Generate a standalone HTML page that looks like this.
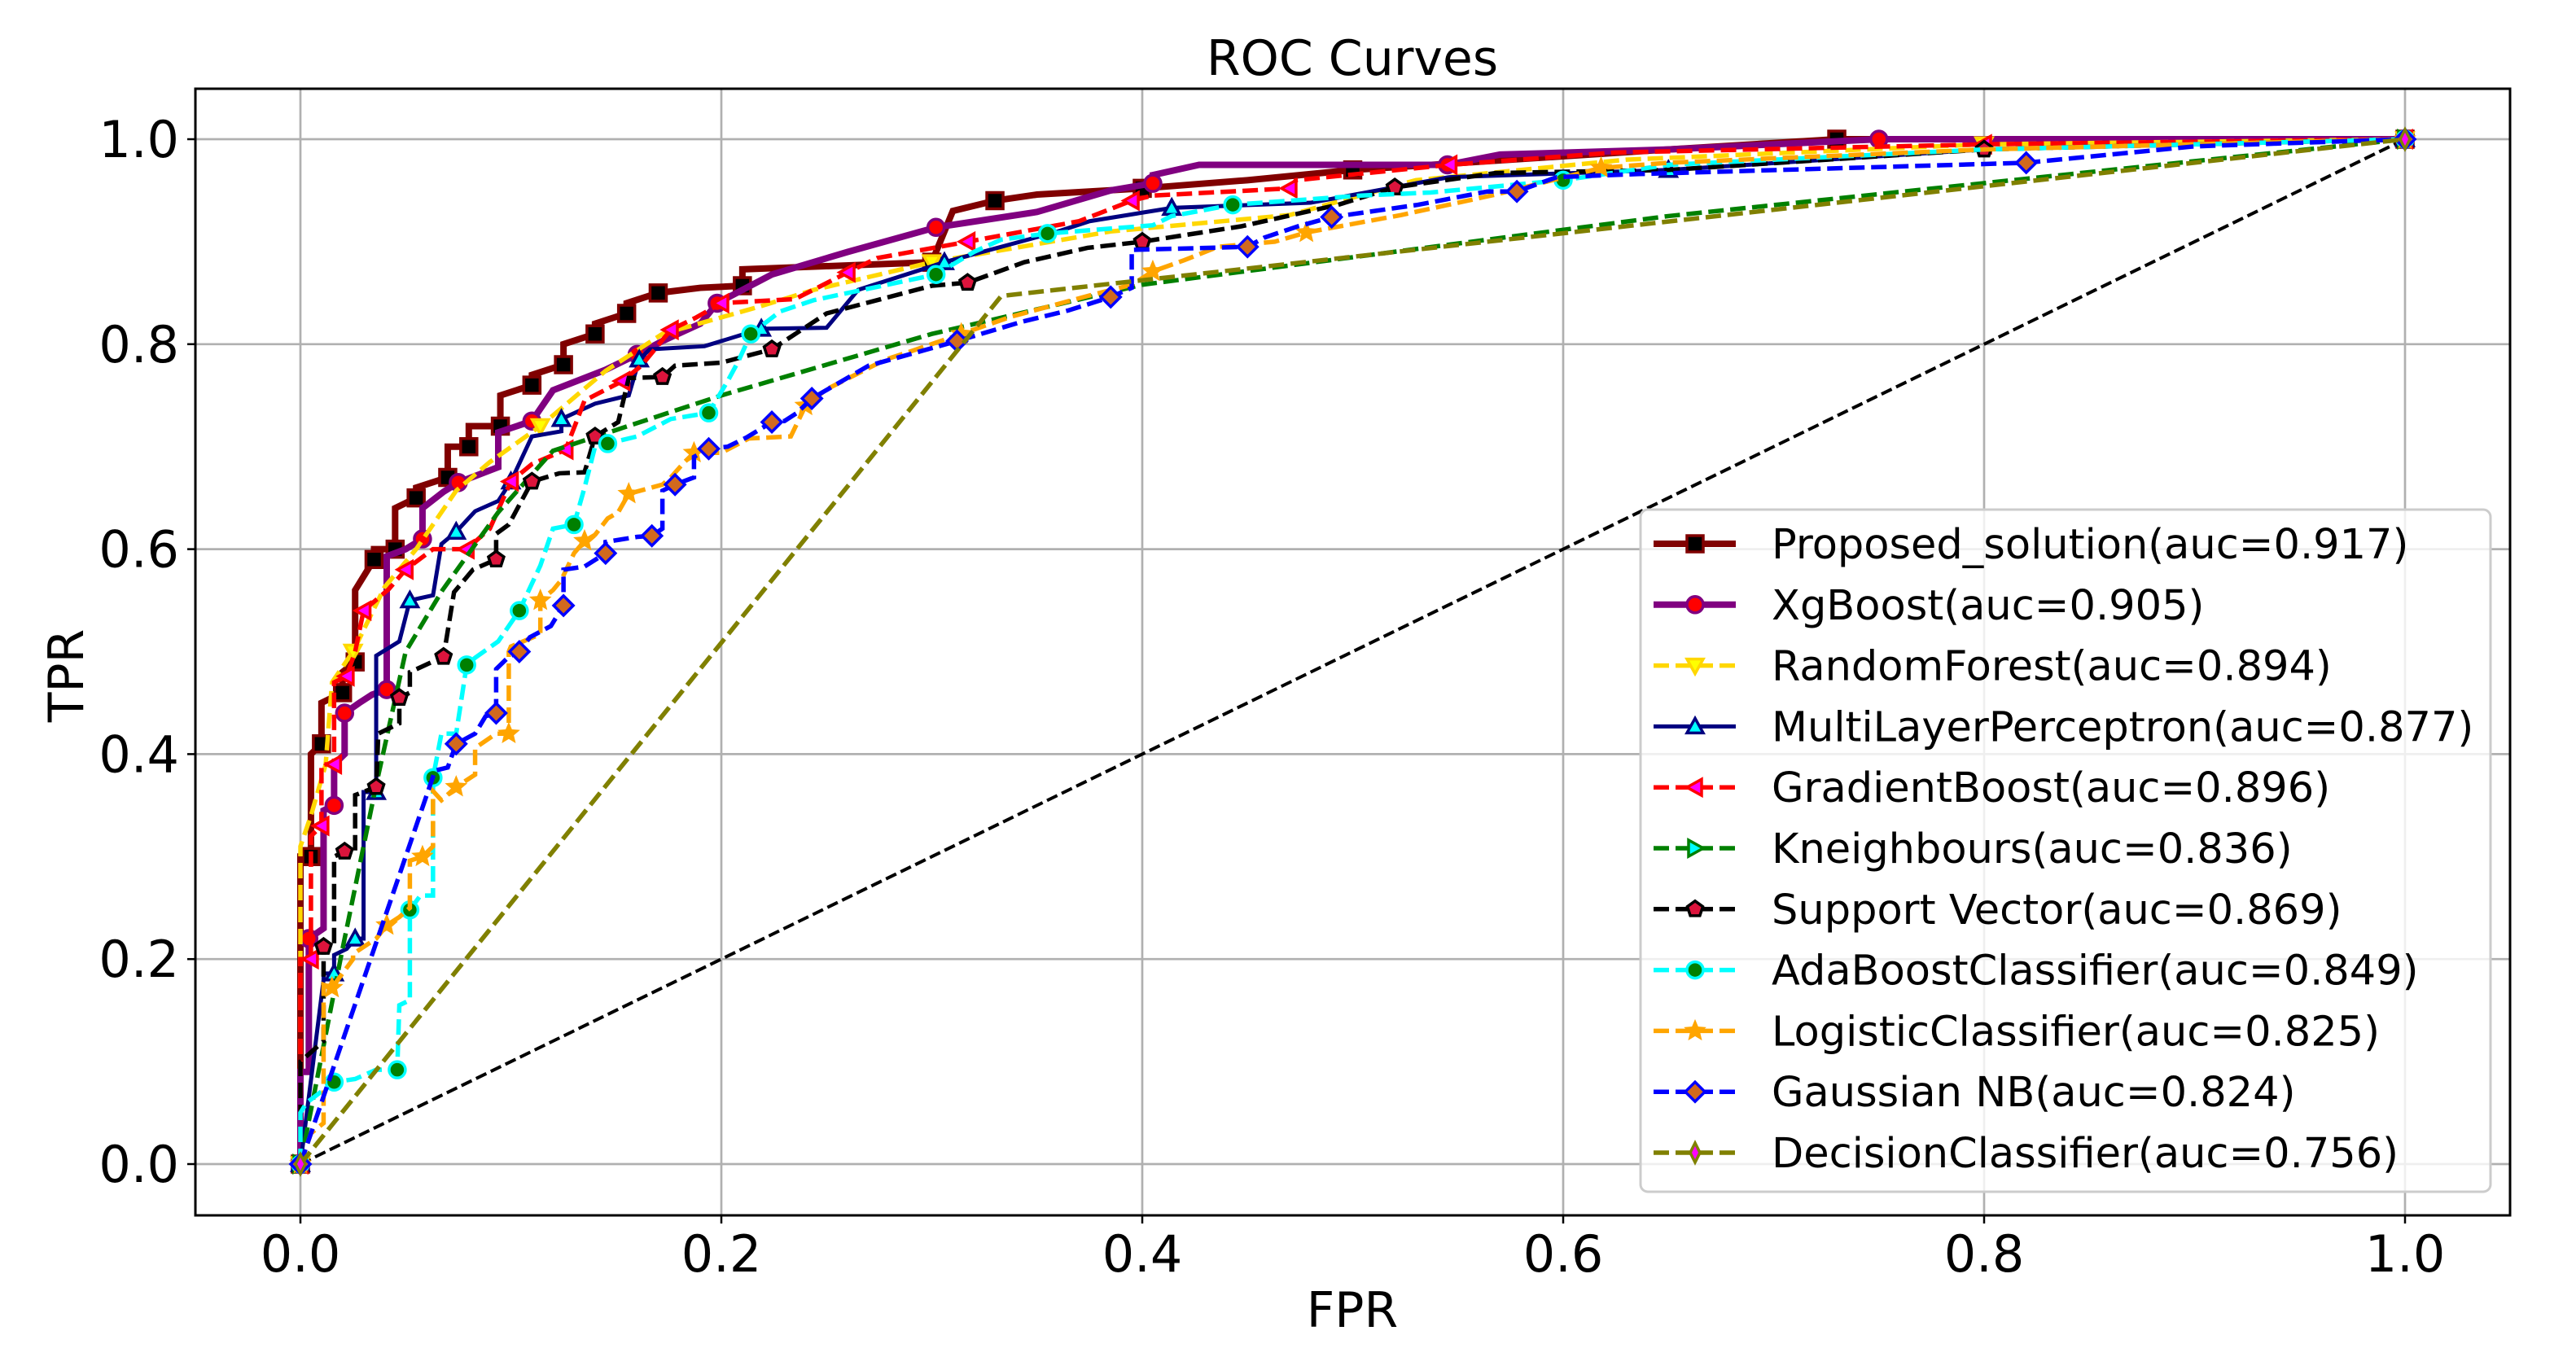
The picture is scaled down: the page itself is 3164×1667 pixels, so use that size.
<!DOCTYPE html>
<html><head><meta charset="utf-8"><style>
html,body{margin:0;padding:0;background:#fff;}
svg{display:block;font-family:"DejaVu Sans","Liberation Sans",sans-serif;}
</style></head><body>
<svg id="chart" width="3164" height="1667" viewBox="0 0 3164 1667" xmlns="http://www.w3.org/2000/svg">
<rect width="3164" height="1667" fill="#fff"/>
<text x="1661" y="92" font-size="60" text-anchor="middle">ROC Curves</text>
<text x="1661" y="1630" font-size="60" text-anchor="middle">FPR</text>
<text x="0" y="0" font-size="60" text-anchor="middle" transform="translate(102,830) rotate(-90)">TPR</text>
<g id="grid"></g>
<g id="ticks"></g>
<g id="plot"></g>
<rect x="240" y="109" width="2843" height="1384" fill="none" stroke="#000" stroke-width="3"/>
<g id="legend"></g>
</svg>
<script>
const xTicks = [0, 0.2, 0.4, 0.6, 0.8, 1.0];
const yTicks = [0, 0.2, 0.4, 0.6, 0.8, 1.0];
const tickLabels = ["0.0", "0.2", "0.4", "0.6", "0.8", "1.0"];

const proposedFpr = [0,0,0.005,0.005,0.01,0.01,0.02,0.02,0.026,0.026,0.035,0.035,0.045,0.045,0.055,0.055,0.07,0.07,0.08,0.08,0.095,0.095,0.11,0.11,0.125,0.125,0.14,0.14,0.155,0.155,0.17,0.19,0.21,0.21,0.3,0.31,0.33,0.35,0.4,0.45,0.5,0.65,0.73,1];
const proposedTpr = [0,0.3,0.3,0.4,0.41,0.45,0.46,0.48,0.49,0.56,0.59,0.6,0.6,0.64,0.65,0.66,0.67,0.7,0.7,0.72,0.72,0.75,0.76,0.77,0.78,0.8,0.81,0.82,0.83,0.84,0.85,0.855,0.857,0.873,0.88,0.93,0.94,0.946,0.952,0.96,0.97,0.99,1.0,1.0];

const xgbFpr = [0,0,0.004,0.004,0.011,0.011,0.016,0.016,0.021,0.021,0.028,0.034,0.041,0.041,0.05,0.058,0.058,0.068,0.075,0.094,0.094,0.11,0.12,0.145,0.16,0.172,0.19,0.198,0.224,0.26,0.302,0.35,0.385,0.405,0.405,0.427,0.545,0.57,0.65,0.75,1];
const xgbTpr = [0,0.09,0.09,0.22,0.23,0.345,0.35,0.39,0.4,0.44,0.45,0.458,0.463,0.593,0.6,0.61,0.64,0.656,0.665,0.68,0.714,0.725,0.755,0.775,0.79,0.803,0.82,0.84,0.868,0.89,0.914,0.929,0.95,0.957,0.965,0.975,0.975,0.985,0.99,1,1];

const rfFpr = [0,0,0.005,0.012,0.015,0.025,0.04,0.055,0.074,0.09,0.114,0.145,0.172,0.217,0.244,0.3,0.385,0.47,0.53,0.63,0.8,1];
const rfTpr = [0,0.31,0.34,0.39,0.47,0.5,0.563,0.6,0.657,0.685,0.72,0.774,0.81,0.836,0.853,0.88,0.91,0.926,0.96,0.98,0.995,1];

const mlpFpr = [0,0.011,0.011,0.016,0.016,0.022,0.026,0.03,0.03,0.036,0.036,0.047,0.052,0.063,0.067,0.074,0.083,0.094,0.1,0.11,0.124,0.124,0.14,0.156,0.161,0.166,0.192,0.219,0.25,0.265,0.306,0.36,0.375,0.414,0.48,0.546,0.65,0.8,1];
const mlpTpr = [0,0.18,0.186,0.186,0.204,0.21,0.22,0.22,0.363,0.363,0.496,0.51,0.55,0.555,0.605,0.617,0.637,0.647,0.666,0.71,0.715,0.727,0.742,0.75,0.785,0.795,0.798,0.815,0.816,0.853,0.88,0.91,0.92,0.933,0.938,0.963,0.97,0.99,1];

const gbFpr = [0,0,0.005,0.005,0.01,0.01,0.016,0.016,0.022,0.026,0.03,0.042,0.05,0.063,0.079,0.09,0.1,0.11,0.126,0.135,0.153,0.162,0.176,0.188,0.2,0.235,0.26,0.274,0.317,0.37,0.395,0.405,0.47,0.473,0.546,0.625,0.8,1];
const gbTpr = [0,0.2,0.2,0.32,0.33,0.39,0.39,0.47,0.476,0.5,0.54,0.561,0.58,0.6,0.6,0.62,0.666,0.683,0.697,0.745,0.764,0.779,0.814,0.826,0.84,0.844,0.87,0.884,0.9,0.92,0.94,0.945,0.952,0.96,0.975,0.987,0.995,1];

const knnFpr = [0,0.02,0.036,0.05,0.0675,0.094,0.12,0.2,0.3,0.4,0.65,1];
const knnTpr = [0,0.21,0.37,0.5,0.56,0.636,0.696,0.75,0.81,0.858,0.925,1];

const svmFpr = [0,0,0.011,0.011,0.016,0.016,0.021,0.026,0.026,0.036,0.037,0.047,0.047,0.052,0.052,0.068,0.073,0.082,0.093,0.093,0.099,0.11,0.123,0.135,0.14,0.151,0.156,0.172,0.178,0.2,0.224,0.25,0.3,0.317,0.344,0.374,0.4,0.447,0.493,0.52,0.568,0.65,0.8,1];
const svmTpr = [0,0.1,0.12,0.212,0.212,0.3,0.305,0.305,0.36,0.368,0.42,0.43,0.455,0.46,0.48,0.495,0.558,0.58,0.59,0.615,0.624,0.666,0.674,0.675,0.71,0.724,0.767,0.768,0.779,0.782,0.795,0.83,0.857,0.86,0.88,0.894,0.9,0.915,0.936,0.953,0.967,0.97,0.99,1];

const adaFpr = [0,0,0.003,0.016,0.026,0.036,0.046,0.047,0.052,0.052,0.057,0.063,0.063,0.067,0.074,0.079,0.083,0.094,0.104,0.114,0.12,0.13,0.135,0.14,0.146,0.16,0.176,0.194,0.203,0.208,0.214,0.228,0.244,0.302,0.32,0.333,0.355,0.405,0.414,0.443,0.504,0.537,0.6,0.65,0.8,1];
const adaTpr = [0,0.05,0.06,0.08,0.083,0.092,0.092,0.155,0.16,0.248,0.262,0.262,0.377,0.42,0.42,0.487,0.494,0.51,0.54,0.584,0.62,0.624,0.66,0.7,0.703,0.71,0.727,0.733,0.764,0.783,0.81,0.832,0.843,0.868,0.89,0.902,0.908,0.916,0.925,0.936,0.945,0.948,0.96,0.975,0.99,1];

const lrFpr = [0,0.005,0.011,0.011,0.015,0.025,0.025,0.036,0.041,0.047,0.052,0.052,0.058,0.063,0.063,0.067,0.074,0.083,0.083,0.093,0.099,0.099,0.1,0.114,0.114,0.12,0.124,0.13,0.135,0.14,0.146,0.151,0.156,0.172,0.176,0.182,0.187,0.2,0.213,0.233,0.24,0.25,0.278,0.29,0.314,0.338,0.374,0.395,0.405,0.42,0.436,0.463,0.478,0.523,0.55,0.568,0.618,0.65,0.8,1];
const lrTpr = [0,0.03,0.04,0.175,0.172,0.2,0.205,0.22,0.233,0.241,0.25,0.296,0.3,0.31,0.364,0.355,0.368,0.38,0.406,0.42,0.42,0.5,0.505,0.517,0.55,0.56,0.57,0.596,0.608,0.614,0.63,0.636,0.654,0.663,0.67,0.684,0.694,0.694,0.708,0.71,0.74,0.756,0.785,0.793,0.81,0.827,0.847,0.858,0.871,0.882,0.895,0.9,0.909,0.926,0.938,0.946,0.972,0.977,0.99,1];

const nbFpr = [0,0.064,0.07,0.074,0.083,0.088,0.093,0.093,0.099,0.104,0.109,0.119,0.125,0.125,0.135,0.145,0.145,0.16,0.167,0.172,0.172,0.178,0.187,0.187,0.194,0.203,0.212,0.224,0.23,0.236,0.243,0.27,0.284,0.312,0.343,0.365,0.385,0.395,0.395,0.45,0.458,0.474,0.49,0.531,0.564,0.578,0.597,0.636,0.82,0.9,1];
const nbTpr = [0,0.384,0.387,0.41,0.42,0.437,0.44,0.483,0.495,0.5,0.514,0.525,0.545,0.58,0.583,0.596,0.607,0.612,0.613,0.62,0.657,0.663,0.67,0.69,0.698,0.7,0.709,0.724,0.725,0.733,0.747,0.779,0.787,0.803,0.822,0.833,0.846,0.855,0.892,0.895,0.904,0.915,0.924,0.936,0.949,0.949,0.963,0.966,0.977,0.993,1];

const dtFpr = [0,0.333,1];
const dtTpr = [0,0.847,1];

const diagFpr = [0,1];
const diagTpr = [0,1];

const X0 = 369, XS = 2585, Y0 = 1430, YS = 1259;
function xs(v){ return X0 + v*XS; }
function ys(v){ return Y0 - v*YS; }
const NS = "http://www.w3.org/2000/svg";
function mk(tag, attrs, parent){
  const el = document.createElementNS(NS, tag);
  for (const k in attrs) el.setAttribute(k, attrs[k]);
  parent.appendChild(el);
  return el;
}

const series = [
 {key:"proposed", label:"Proposed_solution(auc=0.917)", fpr:proposedFpr, tpr:proposedTpr, color:"#800000", w:8, dash:"", marker:"square", mf:"#000", me:"#800000", every:2},
 {key:"xgboost", label:"XgBoost(auc=0.905)", fpr:xgbFpr, tpr:xgbTpr, color:"#800080", w:8, dash:"", marker:"circle", mf:"#ff0000", me:"#800080", every:3},
 {key:"random-forest", label:"RandomForest(auc=0.894)", fpr:rfFpr, tpr:rfTpr, color:"#ffd700", w:5.5, dash:"19 8", marker:"tridown", mf:"#ffff00", me:"#ffd700", every:5},
 {key:"mlp", label:"MultiLayerPerceptron(auc=0.877)", fpr:mlpFpr, tpr:mlpTpr, color:"#000080", w:5, dash:"", marker:"triup", mf:"#00ffff", me:"#000080", every:3},
 {key:"gradient-boost", label:"GradientBoost(auc=0.896)", fpr:gbFpr, tpr:gbTpr, color:"#ff0000", w:5.5, dash:"19 8", marker:"trileft", mf:"#ff00ff", me:"#ff0000", every:2},
 {key:"kneighbours", label:"Kneighbours(auc=0.836)", fpr:knnFpr, tpr:knnTpr, color:"#008000", w:5.5, dash:"19 8", marker:"triright", mf:"#00ffff", me:"#008000", every:100},
 {key:"support-vector", label:"Support Vector(auc=0.869)", fpr:svmFpr, tpr:svmTpr, color:"#000000", w:5.5, dash:"19 8", marker:"pentagon", mf:"#dc143c", me:"#000000", every:3},
 {key:"adaboost", label:"AdaBoostClassifier(auc=0.849)", fpr:adaFpr, tpr:adaTpr, color:"#00ffff", w:5.5, dash:"19 8", marker:"circle", mf:"#008000", me:"#00ffff", every:3},
 {key:"logistic", label:"LogisticClassifier(auc=0.825)", fpr:lrFpr, tpr:lrTpr, color:"#ffa500", w:5.5, dash:"19 8", marker:"star", mf:"#ffa500", me:"#ffa500", every:4},
 {key:"gaussian-nb", label:"Gaussian NB(auc=0.824)", fpr:nbFpr, tpr:nbTpr, color:"#0000ff", w:5.5, dash:"19 8", marker:"diamond", mf:"#d2691e", me:"#0000ff", every:3},
 {key:"decision", label:"DecisionClassifier(auc=0.756)", fpr:dtFpr, tpr:dtTpr, color:"#808000", w:5.5, dash:"19 8", marker:"thindiamond", mf:"#ff00ff", me:"#808000", every:100}
];

function markerPath(type, cx, cy, s){
  const r = s/2;
  switch(type){
    case "square": return `M${cx-r},${cy-r}h${s}v${s}h${-s}z`;
    case "tridown": return `M${cx-r},${cy-r*0.8}L${cx+r},${cy-r*0.8}L${cx},${cy+r}z`;
    case "triup": return `M${cx-r},${cy+r*0.8}L${cx+r},${cy+r*0.8}L${cx},${cy-r}z`;
    case "trileft": return `M${cx+r*0.8},${cy-r}L${cx+r*0.8},${cy+r}L${cx-r},${cy}z`;
    case "triright": return `M${cx-r*0.8},${cy-r}L${cx-r*0.8},${cy+r}L${cx+r},${cy}z`;
    case "diamond": return `M${cx},${cy-r*1.2}L${cx+r*1.2},${cy}L${cx},${cy+r*1.2}L${cx-r*1.2},${cy}z`;
    case "thindiamond": return `M${cx},${cy-r*1.2}L${cx+r*0.6},${cy}L${cx},${cy+r*1.2}L${cx-r*0.6},${cy}z`;
    case "pentagon": {
      let d=""; for(let i=0;i<5;i++){const a=-Math.PI/2+i*2*Math.PI/5; d+=(i?"L":"M")+(cx+r*Math.cos(a))+","+(cy+r*Math.sin(a));} return d+"z"; }
    case "star": {
      let d=""; for(let i=0;i<10;i++){const a=-Math.PI/2+i*Math.PI/5; const rr=i%2?r*0.45:r; d+=(i?"L":"M")+(cx+rr*Math.cos(a))+","+(cy+rr*Math.sin(a));} return d+"z"; }
    default: return `M${cx-r},${cy}a${r},${r} 0 1,0 ${s},0a${r},${r} 0 1,0 ${-s},0z`;
  }
}

const grid = document.getElementById("grid");
const ticks = document.getElementById("ticks");
xTicks.forEach((v,i)=>{
  const g = mk("line",{x1:xs(v),x2:xs(v),y1:109,y2:1493,stroke:"#b0b0b0","stroke-width":2.7},grid);
  
  
  const t = mk("line",{x1:xs(v),x2:xs(v),y1:1493,y2:1503,stroke:"#000","stroke-width":2.5},ticks);
  
  
  const l = mk("text",{x:xs(v),y:1562,"font-size":62,"text-anchor":"middle"},ticks);
  l.textContent = tickLabels[i];
  
  
});
yTicks.forEach((v,i)=>{
  const g = mk("line",{x1:240,x2:3083,y1:ys(v),y2:ys(v),stroke:"#b0b0b0","stroke-width":2.7},grid);
  
  
  const t = mk("line",{x1:230,x2:240,y1:ys(v),y2:ys(v),stroke:"#000","stroke-width":2.5},ticks);
  
  
  const l = mk("text",{x:220,y:ys(v)+22,"font-size":62,"text-anchor":"end"},ticks);
  l.textContent = tickLabels[i];
  
  
});

const plot = document.getElementById("plot");
const diag = mk("polyline",{points:diagFpr.map((v,i)=>xs(v)+","+ys(diagTpr[i])).join(" "),fill:"none",stroke:"#000","stroke-width":4,"stroke-dasharray":"14 6"},plot);



series.forEach(s=>{
  const n = Math.min(s.fpr.length, s.tpr.length);
  const g = mk("g",{},plot);
  
  
  const pts = [];
  for(let i=0;i<n;i++) pts.push(xs(s.fpr[i])+","+ys(s.tpr[i]));
  const attrs = {points:pts.join(" "),fill:"none",stroke:s.color,"stroke-width":s.w,"stroke-linejoin":"miter"};
  if(s.dash) attrs["stroke-dasharray"]=s.dash;
  const line = mk("polyline",attrs,g);
  
  
  for(let i=0;i<n;i++){
    if(i % s.every !== 0 && i !== n-1) continue;
    const m = mk("path",{d:markerPath(s.marker, xs(s.fpr[i]), ys(s.tpr[i]), 20),fill:s.mf,stroke:s.me,"stroke-width":3.5},g);
    
    
  }
});

const legend = document.getElementById("legend");
const box = mk("rect",{x:2015,y:626,width:1044,height:838,rx:9,fill:"#fff","fill-opacity":0.8,stroke:"#cccccc","stroke-width":3},legend);


series.forEach((s,i)=>{
  const cy = 668 + i*74.8;
  const g = mk("g",{},legend);
  
  
  const la = {x1:2031,x2:2132,y1:cy,y2:cy,stroke:s.color,"stroke-width":s.w};
  if(s.dash) la["stroke-dasharray"]=s.dash;
  const ln = mk("line",la,g);
  
  
  const mm = mk("path",{d:markerPath(s.marker,2082,cy,20),fill:s.mf,stroke:s.me,"stroke-width":3.5},g);
  
  
  const t = mk("text",{x:2176,y:cy+18,"font-size":51},g);
  t.textContent = s.label;
  
  
});
</script>
</body></html>
